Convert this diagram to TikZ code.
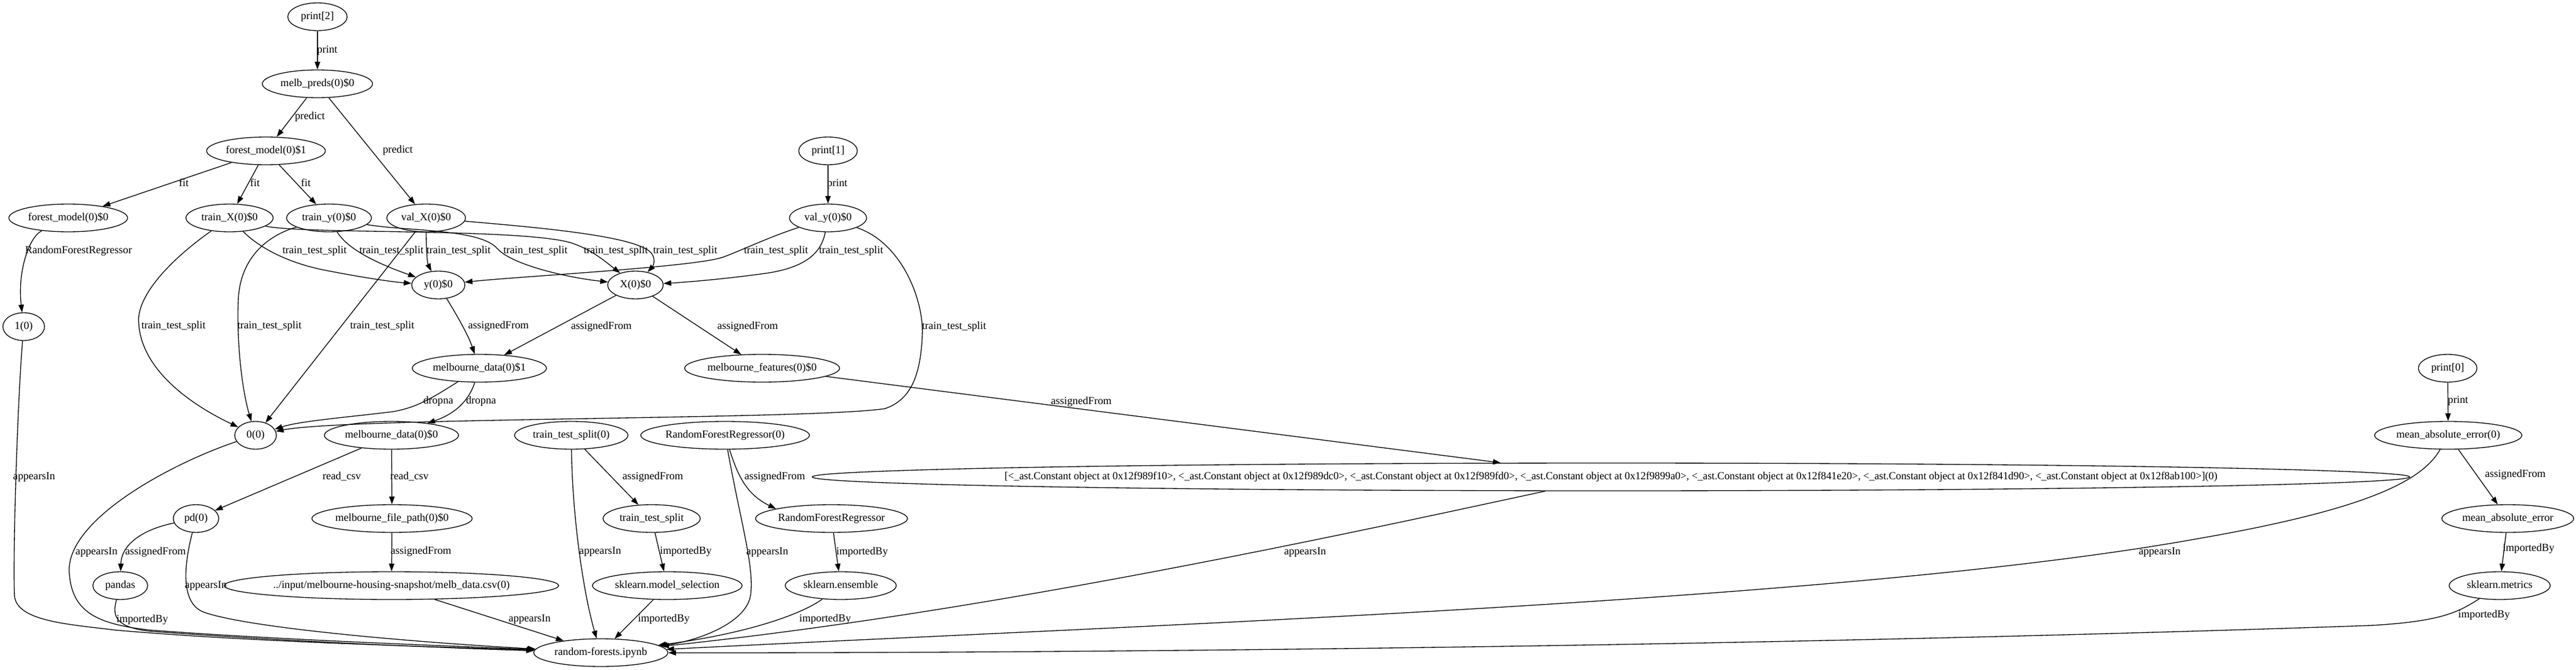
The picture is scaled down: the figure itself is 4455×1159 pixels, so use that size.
\documentclass[tikz,border=0pt]{standalone}
\usepackage{graphicx}
\usepackage{fontspec}
\setmainfont{Liberation Serif}
\usetikzlibrary{shapes.geometric,arrows.meta}

\tikzset{
  obj/.style={draw, ellipse, line width=1pt, minimum height=36pt, inner sep=0pt,
    text height=9.5pt, text depth=3pt, font=\fontsize{14}{16}\selectfont},
  lbl/.style={inner sep=0pt, text height=9.5pt, text depth=3pt, font=\fontsize{14}{16}\selectfont},
  arr/.style={-{Triangle[length=10pt,width=7pt]}, line width=1pt},
}

\begin{document}
\begin{tikzpicture}[x=0.75pt,y=-0.75pt]
      \useasboundingbox (0,0) rectangle (4455,1159);

      % Draw the nodes, row by row
      \node[obj, minimum width=77pt] (print2) at (549,29) {print[2]};
      \node[obj, minimum width=143pt] (melbpreds) at (549,145) {melb\_preds(0)\$0};
      \node[obj, minimum width=154pt] (forest1) at (460,261) {forest\_model(0)\$1};
      \node[obj, minimum width=76pt] (print1) at (1432,261) {print[1]};
      \node[obj, minimum width=154pt] (forest0) at (118,377) {forest\_model(0)\$0};
      \node[obj, minimum width=113pt] (trainX) at (397,377) {train\_X(0)\$0};
      \node[obj, minimum width=110pt] (trainY) at (569,377) {train\_y(0)\$0};
      \node[obj, minimum width=102pt] (valX) at (737,377) {val\_X(0)\$0};
      \node[obj, minimum width=100pt] (valY) at (1432,377) {val\_y(0)\$0};
      \node[obj, minimum width=69pt] (ySet) at (758,493) {y(0)\$0};
      \node[obj, minimum width=72pt] (XSet) at (1099,493) {X(0)\$0};
      \node[obj, minimum width=54pt] (one) at (41,565) {1(0)};
      \node[obj, minimum width=174pt] (mdata1) at (829,637) {melbourne\_data(0)\$1};
      \node[obj, minimum width=201pt] (mfeat) at (1318,637) {melbourne\_features(0)\$0};
      \node[obj, minimum width=76pt] (print0) at (4233,637) {print[0]};
      \node[obj, minimum width=54pt] (zero) at (442,753) {0(0)};
      \node[obj, minimum width=174pt] (mdata0) at (677,753) {melbourne\_data(0)\$0};
      \node[obj, minimum width=147pt] (tts0) at (988,753) {train\_test\_split(0)};
      \node[obj, minimum width=218pt] (rfr0) at (1254,753) {RandomForestRegressor(0)};
      \node[obj, minimum width=191pt] (mae0) at (4234,753) {mean\_absolute\_error(0)};
      \node[obj, inner xsep=-54pt] (consts) at (2786,825) {\resizebox{1573pt}{\height}{[<\_ast.Constant object at 0x12f989f10>, <\_ast.Constant object at 0x12f989dc0>, <\_ast.Constant object at 0x12f989fd0>, <\_ast.Constant object at 0x12f9899a0>, <\_ast.Constant object at 0x12f841e20>, <\_ast.Constant object at 0x12f841d90>, <\_ast.Constant object at 0x12f8ab100>](0)}};
      \node[obj, minimum width=59pt] (pd) at (339,897) {pd(0)};
      \node[obj, minimum width=206pt] (mfile) at (678,897) {melbourne\_file\_path(0)\$0};
      \node[obj, minimum width=126pt] (tts) at (1127,897) {train\_test\_split};
      \node[obj, minimum width=197pt] (rfr) at (1438,897) {RandomForestRegressor};
      \node[obj, minimum width=171pt] (mae) at (4337,897) {mean\_absolute\_error};
      \node[obj, minimum width=71pt] (pandas) at (208,1013) {pandas};
      \node[obj, minimum width=410pt] (csv) at (677,1013) {../input/melbourne-housing-snapshot/melb\_data.csv(0)};
      \node[obj, minimum width=194pt] (skmodel) at (1154,1013) {sklearn.model\_selection};
      \node[obj, minimum width=144pt] (skens) at (1454,1013) {sklearn.ensemble};
      \node[obj, minimum width=131pt] (skmetrics) at (4323,1013) {sklearn.metrics};
      \node[obj, minimum width=174pt] (nb) at (1039,1129) {random-forests.ipynb};

      % Draw the upper edges
      \draw[arr] (print2) -- (melbpreds);
      \draw[arr] (melbpreds) -- (forest1);
      \draw[arr] (melbpreds) -- (valX);
      \draw[arr] (forest1) -- (forest0);
      \draw[arr] (forest1) -- (trainX);
      \draw[arr] (forest1) -- (trainY);
      \draw[arr] (print1) -- (valY);
      \draw[arr] (forest0) .. controls (50,410) and (30,470) .. (one);

      % Draw the train_test_split edges
      \draw[arr] (trainX) .. controls (280,460) and (235,520) .. (240,560) .. controls (245,640) and (330,700) .. (zero);
      \draw[arr] (trainX) .. controls (450,430) and (500,455) .. (560,467) .. controls (620,479) and (680,488) .. (ySet);
      \draw[arr] (trainX) .. controls (520,405) and (880,395) .. (980,418) .. controls (1020,428) and (1050,455) .. (XSet);
      \draw[arr] (trainY) .. controls (470,405) and (415,440) .. (412,520) .. controls (409,600) and (420,680) .. (zero);
      \draw[arr] (trainY) .. controls (600,430) and (650,455) .. (ySet);
      \draw[arr] (trainY) .. controls (700,400) and (830,395) .. (860,430) .. controls (885,458) and (980,480) .. (XSet);
      \draw[arr] (valX) -- (zero);
      \draw[arr] (valX) .. controls (737,430) and (739,455) .. (ySet);
      \draw[arr] (valX) .. controls (950,395) and (1110,410) .. (1128,440) .. controls (1135,452) and (1128,462) .. (XSet);
      \draw[arr] (valY) .. controls (1330,410) and (1290,430) .. (1250,445) .. controls (1200,462) and (900,478) .. (ySet);
      \draw[arr] (valY) .. controls (1420,440) and (1390,462) .. (1330,472) .. controls (1260,482) and (1190,488) .. (XSet);
      \draw[arr] (valY) .. controls (1560,420) and (1598,520) .. (1595,580) .. controls (1592,650) and (1575,692) .. (1530,707) .. controls (1400,726) and (600,722) .. (zero);

      % Draw the middle edges
      \draw[arr] (ySet) .. controls (790,545) and (810,580) .. (mdata1);
      \draw[arr] (XSet) -- (mdata1);
      \draw[arr] (XSet) -- (mfeat);
      \draw[arr] (mdata1) .. controls (745,690) and (720,705) .. (680,712) .. controls (600,722) and (520,728) .. (zero);
      \draw[arr] (mdata1) .. controls (812,690) and (790,715) .. (mdata0);
      \draw[arr] (mfeat) -- (consts);
      \draw[arr] (print0) -- (mae0);
      \draw[arr] (mdata0) -- (pd);
      \draw[arr] (mdata0) -- (mfile);
      \draw[arr] (mfile) -- (csv);
      \draw[arr] (pd) .. controls (250,915) and (210,940) .. (pandas);
      \draw[arr] (tts0) -- (tts);
      \draw[arr] (tts) -- (skmodel);
      \draw[arr] (rfr0) .. controls (1275,820) and (1290,855) .. (rfr.170);
      \draw[arr] (rfr) -- (skens);
      \draw[arr] (mae0) -- (mae);
      \draw[arr] (mae) -- (skmetrics);

      % Draw the edges into the notebook
      \draw[arr] (one) .. controls (30,700) and (22,960) .. (25,1030) .. controls (28,1075) and (120,1080) .. (200,1090) .. controls (450,1112) and (800,1120) .. (nb);
      \draw[arr] (zero) .. controls (300,800) and (110,900) .. (120,993) .. controls (125,1060) and (170,1080) .. (260,1090) .. controls (500,1108) and (800,1118) .. (nb);
      \draw[arr] (pd) .. controls (320,970) and (310,1040) .. (350,1058) .. controls (420,1085) and (700,1110) .. (nb);
      \draw[arr] (pandas) .. controls (194,1065) and (198,1085) .. (260,1092) .. controls (500,1110) and (800,1122) .. (nb);
      \draw[arr] (csv) -- (nb);
      \draw[arr] (tts0) .. controls (990,900) and (1010,1030) .. (nb);
      \draw[arr] (skmodel) -- (nb);
      \draw[arr] (rfr0) .. controls (1280,900) and (1305,980) .. (1298,1030) .. controls (1290,1080) and (1200,1110) .. (nb);
      \draw[arr] (skens) .. controls (1390,1060) and (1300,1095) .. (nb);
      \draw[arr] (consts) .. controls (2300,930) and (1700,1060) .. (nb);
      \draw[arr] (mae0) .. controls (4190,830) and (4100,880) .. (3800,932) .. controls (3200,1040) and (2000,1080) .. (nb);
      \draw[arr] (skmetrics) .. controls (4250,1060) and (4220,1075) .. (4100,1082) .. controls (3000,1120) and (1800,1130) .. (nb);

      % Add the edge labels
      \foreach \x/\y/\t [count=\i] in {
          566/87/print, 536/202/predict, 688/260/predict,
          318/318/fit, 441/318/fit, 529/318/fit, 1448/318/print,
          136/434/RandomForestRegressor,
          544/434/train\_test\_split, 677/434/train\_test\_split, 793/434/train\_test\_split,
          926/434/train\_test\_split, 1065/434/train\_test\_split, 1185/434/train\_test\_split,
          1342/434/train\_test\_split, 1472/434/train\_test\_split,
          300/564/train\_test\_split, 466/564/train\_test\_split, 661/564/train\_test\_split,
          1650/565/train\_test\_split,
          862/564/assignedFrom, 1040/565/assignedFrom, 1293/565/assignedFrom,
          758/694/dropna, 832/694/dropna, 1870/695/assignedFrom, 4251/693/print,
          59/825/appearsIn, 591/825/read\_csv, 708/825/read\_csv,
          1129/825/assignedFrom, 1340/825/assignedFrom, 4350/821/assignedFrom,
          167/955/appearsIn, 269/955/assignedFrom, 728/954/assignedFrom,
          1038/954/appearsIn, 1186/954/importedBy, 1327/955/appearsIn,
          1491/955/importedBy, 2257/955/appearsIn, 3735/955/appearsIn,
          4373/949/importedBy, 356/1013/appearsIn,
          916/1071/appearsIn, 1148/1071/importedBy, 1427/1071/importedBy,
          246/1072/importedBy, 4296/1064/importedBy} {
          \node[lbl] (lab\i) at (\x,\y) {\t};
      }
    \end{tikzpicture}
\end{document}
